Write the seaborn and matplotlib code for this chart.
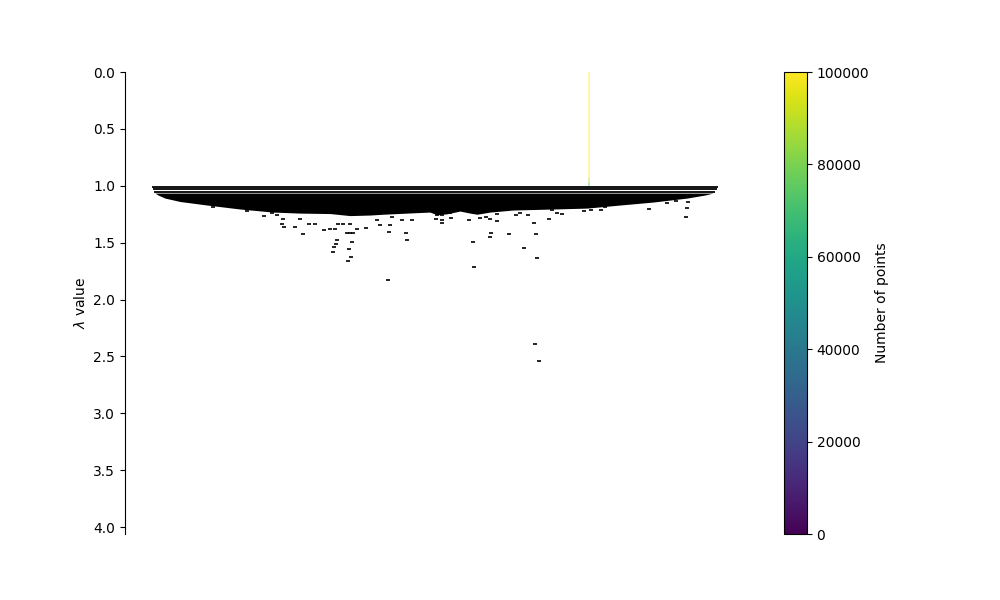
import numpy as np
import pandas as pd
import matplotlib
matplotlib.use("Agg")
import matplotlib.pyplot as plt
import seaborn as sns

# Condensed tree (x = leaf position, y = lambda)
root_x = 464.0
root_lambda_breaks = [0.0, 0.93, 0.97, 1.008]
root_points = [100000, 88000, 74000]

# top connector lines: lambda, x start, x end
top_lines_lambda = [1.008, 1.031, 1.052]
top_lines_xstart = [27, 28, 29]
top_lines_xend = [593, 592, 590]

# lower envelope of the dense block of clusters
body_top_lambda = 1.064
env_x = [30, 33, 40, 55, 82, 115, 148, 175, 205, 225, 245, 258, 292, 305,
         312, 322, 335, 345, 352, 365, 388, 428, 462, 495, 528, 562, 580, 588]
env_lambda = [1.064, 1.081, 1.108, 1.138, 1.169, 1.204, 1.231, 1.240, 1.244,
              1.262, 1.257, 1.250, 1.236, 1.231, 1.255, 1.246, 1.222, 1.240,
              1.250, 1.231, 1.213, 1.204, 1.196, 1.169, 1.143, 1.108, 1.081, 1.064]

# small leaf clusters below the block
leaf_x = [87.7, 121.7, 138.5, 146.7, 152.3, 158.3, 157.3, 159.3, 170, 175,
          178.3, 184.3, 190, 199, 205, 210, 213.3, 218, 225, 221.7, 225, 228,
          231.7, 212.3, 211, 209, 208.3, 226.7, 224.3, 226, 222.7, 240.7,
          251.7, 255, 265, 266.7, 276.7, 286.7, 264.3, 281, 281.7, 263.3,
          311.7, 316.7, 325, 311, 316.7, 316.7, 325.7, 344.3, 355, 361, 365,
          371.7, 372.3, 390.7, 395, 403.3, 409.3, 424, 431.7, 437.3, 366, 365,
          383.7, 410.7, 348.3, 399.3, 412.3, 349.3, 410, 414, 459, 465.7, 476,
          480, 524.3, 541.7, 551, 563.3, 562.3, 561, 426.7]
leaf_lambda = [1.189, 1.219, 1.262, 1.242, 1.255, 1.295, 1.336, 1.365, 1.360,
               1.292, 1.424, 1.336, 1.336, 1.389, 1.383, 1.383, 1.336, 1.336,
               1.336, 1.418, 1.415, 1.413, 1.380, 1.477, 1.512, 1.541, 1.580,
               1.492, 1.559, 1.624, 1.659, 1.374, 1.301, 1.345, 1.345, 1.272,
               1.301, 1.301, 1.409, 1.413, 1.477, 1.829, 1.257, 1.257, 1.242,
               1.295, 1.301, 1.325, 1.286, 1.301, 1.286, 1.272, 1.295, 1.251,
               1.307, 1.257, 1.242, 1.260, 1.325, 1.295, 1.237, 1.246, 1.418,
               1.448, 1.424, 1.427, 1.492, 1.550, 1.638, 1.717, 2.391, 2.541,
               1.225, 1.216, 1.213, 1.189, 1.207, 1.149, 1.134, 1.146, 1.198,
               1.277, 1.213]

max_points = 100000
y_ticks = [0.0, 0.5, 1.0, 1.5, 2.0, 2.5, 3.0, 3.5, 4.0]

cmap = plt.get_cmap("viridis")
norm = plt.Normalize(0, max_points)

fig, ax = plt.subplots(figsize=(10, 6), dpi=100)

# root branch (very thin, coloured by number of points)
for i in range(len(root_points)):
    lo, hi = root_lambda_breaks[i], root_lambda_breaks[i + 1]
    bars = ax.bar(root_x, hi - lo, bottom=lo, width=0.8, color=cmap(norm(root_points[i])),
                  linewidth=0, align="center")
    for b in bars:
        b.set_snap(False)

# dense block of child clusters
ax.fill_between(env_x, body_top_lambda, env_lambda, color="black", linewidth=0)
ax.hlines(top_lines_lambda, top_lines_xstart, top_lines_xend, color="black", linewidth=1.3)

leaves = pd.DataFrame({"x": leaf_x, "lam": leaf_lambda})
sns.scatterplot(data=leaves, x="x", y="lam", marker="_", s=8, linewidth=1.2,
                color="black", ax=ax, legend=False)

ax.set_xlim(0, 620)
ax.set_ylim(4.06, 0)
ax.set_yticks(y_ticks)
ax.set_xticks([])
ax.set_xlabel("")
ax.set_ylabel(r"$\lambda$ value")
for side in ("right", "top", "bottom"):
    ax.spines[side].set_visible(False)

sm = plt.cm.ScalarMappable(cmap=cmap, norm=norm)
sm.set_array([])
cb = fig.colorbar(sm, ax=ax)
cb.ax.set_ylabel("Number of points")

fig.savefig("out.png", dpi=100)
